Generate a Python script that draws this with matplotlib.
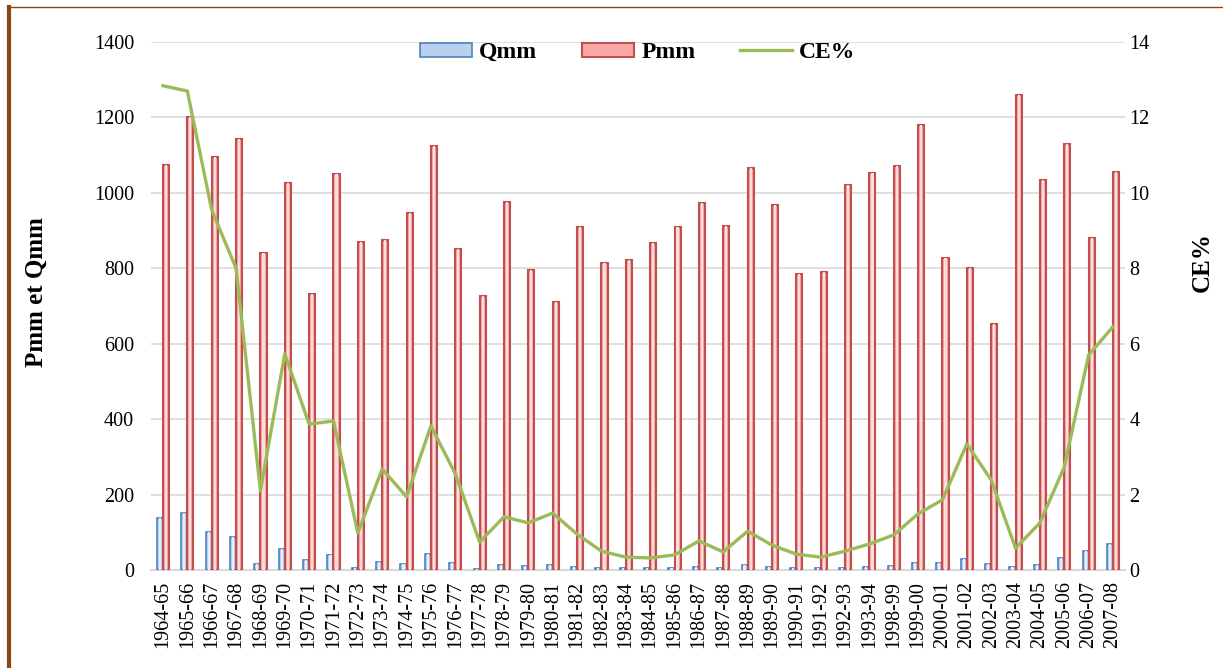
import numpy as np
import matplotlib
matplotlib.use("Agg")
import matplotlib.pyplot as plt
from matplotlib.lines import Line2D

years = ["1964-65", "1965-66", "1966-67", "1967-68", "1968-69", "1969-70", "1970-71",
         "1971-72", "1972-73", "1973-74", "1974-75", "1975-76", "1976-77", "1977-78",
         "1978-79", "1979-80", "1980-81", "1981-82", "1982-83", "1983-84", "1984-85",
         "1985-86", "1986-87", "1987-88", "1988-89", "1989-90", "1990-91", "1991-92",
         "1992-93", "1993-94", "1998-99", "1999-00", "2000-01", "2001-02", "2002-03",
         "2003-04", "2004-05", "2005-06", "2006-07", "2007-08"]
qmm = [138, 150, 102, 88, 15, 57, 27, 40, 6, 21, 16, 42, 19, 3,
       14, 10, 12, 9, 5, 5, 5, 5, 9, 6, 12, 8, 5, 6, 5, 8,
       11, 19, 18, 28, 16, 8, 13, 31, 51, 70]
pmm = [1074, 1200, 1095, 1143, 840, 1027, 733, 1050, 870, 875, 946, 1125, 850, 727,
       975, 796, 711, 910, 815, 823, 866, 910, 973, 913, 1065, 968, 786, 790, 1022, 1052,
       1070, 1180, 828, 802, 652, 1260, 1033, 1130, 880, 1056]
ce = [12.84, 12.7, 9.55, 8.0, 2.1, 5.73, 3.87, 3.95, 0.98, 2.68, 1.94, 3.82, 2.55, 0.74,
      1.41, 1.25, 1.51, 0.95, 0.5, 0.34, 0.32, 0.4, 0.77, 0.48, 1.03, 0.66, 0.42, 0.34,
      0.5, 0.69, 0.93, 1.49, 1.86, 3.34, 2.39, 0.58, 1.25, 2.73, 5.70, 6.45]

plt.rcParams["font.family"] = ["Liberation Serif", "DejaVu Serif"]

fig = plt.figure(figsize=(12.23, 6.68), dpi=100)
# brown frame on the left and top
fig.add_artist(Line2D([0.0075, 0.0075], [0, 0.99], color="#8B4513", lw=3))
fig.add_artist(Line2D([0.0075, 1], [0.99, 0.99], color="#8B4513", lw=1))

ax = fig.add_axes([0.1233, 0.1467, 0.7967, 0.7904])
x = np.arange(len(years))
w = 0.25
ax.bar(x - w / 2, qmm, width=w, color="#B9D0EE", edgecolor="#4F81BD", linewidth=1.2,
       label="Qmm", zorder=3)
ax.bar(x - w / 2, qmm, width=w * 0.35, color="#E4EEFA", linewidth=0, zorder=3.5)
ax.bar(x + w / 2, pmm, width=w, color="#F7A8A7", edgecolor="#C0504D", linewidth=1.5,
       label="Pmm", zorder=3)
ax.bar(x + w / 2, pmm, width=w * 0.35, color="#FCDCDC", linewidth=0, zorder=3.5)
ax.set_xlim(-0.5, len(years) - 0.5)
ax.set_ylim(0, 1400)
ax.set_yticks(range(0, 1401, 200))
ax.yaxis.grid(True, color="#D9D9D9", lw=1.2, zorder=0)
ax.set_axisbelow(True)
for s in ["top", "right", "left"]:
    ax.spines[s].set_visible(False)
ax.spines["bottom"].set_color("#D9D9D9")
ax.spines["bottom"].set_linewidth(1.5)
ax.set_xticks(x)
ax.set_xticklabels(years, rotation=90, fontsize=14.5)
ax.tick_params(axis="x", length=0, pad=8)
ax.tick_params(axis="y", length=0, labelsize=14.5, pad=12)
ax.set_ylabel("Pmm et Qmm", fontsize=18, fontweight="bold")
ax.yaxis.set_label_coords(-0.106, 0.527)

ax2 = ax.twinx()
ax2.plot(x, ce, color="#9BBB59", lw=2.4, label="CE%", zorder=4)
ax2.set_ylim(0, 14)
ax2.set_yticks(range(0, 15, 2))
for s in ["top", "right", "left", "bottom"]:
    ax2.spines[s].set_visible(False)
ax2.tick_params(axis="y", length=0, labelsize=14.5, pad=3)
ax2.set_ylabel("CE%", fontsize=18, fontweight="bold")
ax2.yaxis.set_label_coords(1.067, 0.583)

h1, l1 = ax.get_legend_handles_labels()
h2, l2 = ax2.get_legend_handles_labels()
ax.legend(h1 + h2, l1 + l2, loc="upper center", bbox_to_anchor=(0.5, 1.04), ncol=3,
          frameon=False, prop={"weight": "bold", "size": 17}, handlelength=2.2,
          handleheight=0.55, columnspacing=1.9, handletextpad=0.3)

fig.savefig("out.png", dpi=100)
